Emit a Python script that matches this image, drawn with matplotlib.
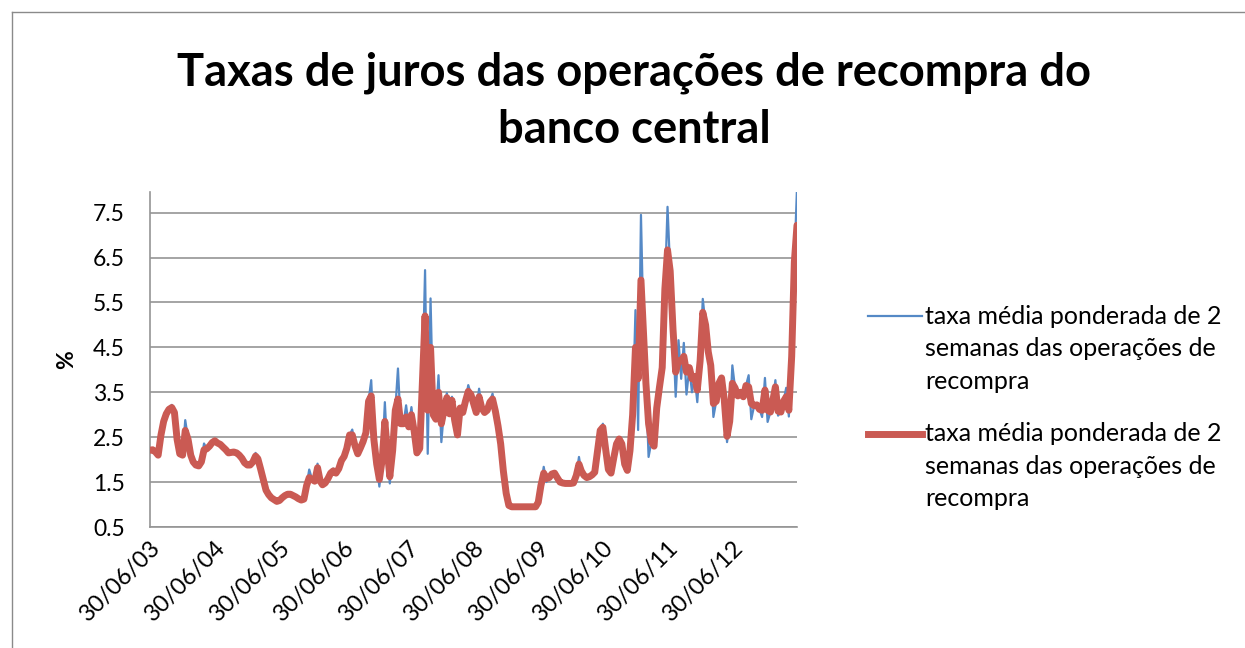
import matplotlib
matplotlib.use("Agg")
import matplotlib.pyplot as plt
import matplotlib.dates as mdates
from matplotlib.lines import Line2D
import pandas as pd

plt.rcParams['font.family'] = ['Lato', 'DejaVu Sans']

# ---------------- data (semi-monthly observations, 30/06/2003 - 30/06/2013) ----------------
start = pd.Timestamp(2003, 6, 30)
end = pd.Timestamp(2013, 6, 30)
dates = []
for yr in range(2003, 2014):
    for mo in range(1, 13):
        d15 = pd.Timestamp(yr, mo, 15)
        dend = d15 + pd.offsets.MonthEnd(0)
        for d in (d15, dend):
            if start <= d <= end:
                dates.append(d)

red_series = [
    2.21, 2.22, 2.17, 2.10, 2.55, 2.85, 3.02, 3.12, 3.16, 3.05,
    2.45, 2.13, 2.10, 2.65, 2.45, 2.10, 1.95, 1.88, 1.86, 1.95,
    2.22, 2.24, 2.30, 2.38, 2.42, 2.37, 2.34, 2.28, 2.22, 2.15,
    2.16, 2.17, 2.15, 2.10, 2.03, 1.93, 1.88, 1.88, 1.95, 2.08,
    2.02, 1.80, 1.55, 1.32, 1.22, 1.15, 1.11, 1.07, 1.09, 1.15,
    1.20, 1.23, 1.23, 1.20, 1.17, 1.13, 1.10, 1.12, 1.42, 1.60,
    1.56, 1.52, 1.82, 1.52, 1.44, 1.48, 1.58, 1.70, 1.75, 1.70,
    1.80, 1.98, 2.07, 2.25, 2.55, 2.55, 2.30, 2.13, 2.26, 2.40,
    2.60, 3.30, 3.42, 2.45, 1.90, 1.56, 2.00, 2.85, 2.25, 1.62,
    2.20, 3.10, 3.35, 2.80, 2.80, 2.95, 2.73, 3.00, 2.62, 2.15,
    2.25, 3.70, 5.20, 3.10, 4.50, 3.00, 2.90, 3.50, 2.80, 3.10,
    3.38, 3.02, 3.32, 2.88, 2.55, 3.15, 3.05, 3.30, 3.52, 3.45,
    3.25, 3.05, 3.40, 3.15, 3.05, 3.10, 3.28, 3.35, 3.08, 2.75,
    2.35, 1.75, 1.25, 0.98, 0.95, 0.95, 0.95, 0.95, 0.95, 0.95,
    0.95, 0.95, 0.95, 0.95, 1.05, 1.42, 1.70, 1.58, 1.60, 1.68,
    1.70, 1.60, 1.50, 1.48, 1.47, 1.47, 1.47, 1.48, 1.65, 1.90,
    1.75, 1.65, 1.60, 1.62, 1.66, 1.72, 2.20, 2.65, 2.72, 2.25,
    1.78, 1.70, 2.05, 2.35, 2.46, 2.35, 1.90, 1.76, 2.20, 3.00,
    4.50, 3.80, 6.00, 4.75, 3.70, 2.80, 2.40, 2.30, 3.15, 3.60,
    4.05, 5.80, 6.67, 6.20, 4.90, 3.95, 4.20, 4.20, 4.30, 3.95,
    4.05, 3.80, 3.85, 3.55, 4.20, 5.28, 5.00, 4.40, 4.10, 3.25,
    3.30, 3.70, 3.82, 3.35, 2.52, 2.85, 3.70, 3.60, 3.42, 3.50,
    3.40, 3.65, 3.62, 3.25, 3.20, 3.22, 3.12, 3.10, 3.55, 3.10,
    3.06, 3.35, 3.62, 3.08, 3.06, 3.30, 3.40, 3.10, 4.30, 6.40,
    7.22,
]

blue_series = [
    2.21, 2.22, 2.17, 2.10, 2.55, 2.85, 3.02, 3.12, 3.22, 3.05,
    2.45, 2.13, 2.10, 2.88, 2.45, 2.10, 1.95, 1.88, 1.86, 1.95,
    2.36, 2.24, 2.30, 2.38, 2.42, 2.37, 2.34, 2.28, 2.22, 2.15,
    2.16, 2.17, 2.15, 2.10, 2.03, 1.93, 1.88, 1.88, 1.95, 2.15,
    2.02, 1.80, 1.55, 1.32, 1.22, 1.15, 1.11, 1.07, 1.09, 1.15,
    1.20, 1.23, 1.23, 1.20, 1.17, 1.13, 1.10, 1.12, 1.42, 1.78,
    1.56, 1.52, 1.91, 1.52, 1.44, 1.48, 1.58, 1.70, 1.80, 1.70,
    1.80, 1.98, 2.07, 2.25, 2.55, 2.67, 2.30, 2.13, 2.26, 2.40,
    2.60, 3.30, 3.77, 2.45, 1.90, 1.40, 2.00, 3.28, 2.25, 1.47,
    2.20, 3.10, 4.03, 2.80, 2.80, 3.21, 2.73, 3.17, 2.62, 2.15,
    2.25, 3.70, 6.22, 2.13, 5.59, 3.00, 2.90, 3.88, 2.39, 3.10,
    3.48, 3.02, 3.40, 2.88, 2.55, 3.15, 3.05, 3.30, 3.66, 3.45,
    3.25, 3.05, 3.58, 3.15, 3.05, 3.10, 3.28, 3.47, 3.08, 2.75,
    2.35, 1.75, 1.25, 0.98, 0.95, 0.95, 0.95, 0.95, 0.95, 0.95,
    0.95, 0.95, 0.95, 0.95, 1.05, 1.42, 1.84, 1.50, 1.60, 1.68,
    1.70, 1.60, 1.50, 1.48, 1.47, 1.47, 1.47, 1.48, 1.65, 2.06,
    1.75, 1.65, 1.60, 1.62, 1.66, 1.72, 2.20, 2.65, 2.80, 2.25,
    1.78, 1.70, 2.05, 2.35, 2.46, 2.35, 1.90, 1.76, 2.20, 3.00,
    5.33, 2.66, 7.45, 4.75, 3.70, 2.06, 2.40, 2.30, 3.47, 3.60,
    4.51, 5.80, 7.63, 6.20, 4.90, 3.40, 4.66, 3.80, 4.60, 3.45,
    4.05, 3.50, 3.85, 3.28, 4.20, 5.58, 5.00, 4.77, 4.10, 2.95,
    3.30, 3.70, 3.82, 3.35, 2.39, 2.85, 4.10, 3.60, 3.42, 3.50,
    3.40, 3.65, 3.88, 2.90, 3.20, 3.22, 3.12, 2.95, 3.82, 2.84,
    3.06, 3.35, 3.77, 2.98, 3.06, 3.30, 3.60, 2.96, 4.30, 6.40,
    8.05,
]

series_label = "taxa média ponderada de 2\nsemanas das operações de\nrecompra"
title_text = "Taxas de juros das operações de recompra do\nbanco central"
y_ticks = [0.5, 1.5, 2.5, 3.5, 4.5, 5.5, 6.5, 7.5]
x_tick_dates = [pd.Timestamp(y, 6, 30) for y in range(2003, 2013)]

# ---------------- figure ----------------
W, H = 1245, 648
fig = plt.figure(figsize=(W / 100, H / 100), dpi=100)

def fx(px):
    return px / W

def fy(py):
    return 1 - py / H

ax = fig.add_axes([fx(150), fy(527), fx(797) - fx(150), fy(192) - fy(527)])

blue_c = '#5589C6'
red_c = '#CA5A53'
grid_c = '#959595'

ax.plot(dates, blue_series, color=blue_c, lw=1.6, solid_joinstyle='round', zorder=3)
ax.plot(dates, red_series, color=red_c, lw=5.0, solid_joinstyle='round',
        solid_capstyle='round', zorder=4)

ax.set_xlim(start, end)
ax.set_ylim(0.5, 7.96)
ax.set_yticks(y_ticks)
ax.set_yticklabels([f"{v:.1f}" for v in y_ticks])
ax.yaxis.grid(True, color=grid_c, lw=1.2)
ax.set_axisbelow(True)

ax.set_xticks(x_tick_dates)
ax.xaxis.set_major_formatter(mdates.DateFormatter('%d/%m/%y'))

for s in ('top', 'right'):
    ax.spines[s].set_visible(False)
for s in ('left', 'bottom'):
    ax.spines[s].set_color(grid_c)
    ax.spines[s].set_linewidth(1.2)

ax.tick_params(axis='y', length=0, labelsize=16.5, pad=18)
ax.tick_params(axis='x', length=0, labelsize=17, pad=7)
for lbl in ax.get_xticklabels():
    lbl.set_rotation(45)
    lbl.set_ha('right')
    lbl.set_va('top')
    lbl.set_rotation_mode('anchor')

ax.set_ylabel('%', fontsize=16.5, fontweight='bold')
ax.yaxis.set_label_coords((77 - 150) / 647, 0.5)

# title (baseline of the last line given)
fig.text(fx(634), fy(143), title_text, ha='center', va='baseline',
         fontsize=32.7, fontweight='bold', linespacing=1.45)

# legend (drawn manually to mimic the spreadsheet layout)
fig.add_artist(Line2D([fx(868), fx(922)], [fy(316), fy(316)], color=blue_c, lw=1.6,
                      transform=fig.transFigure))
fig.add_artist(Line2D([fx(868), fx(922)], [fy(434), fy(434)], color=red_c, lw=5.0,
                      transform=fig.transFigure))
fig.text(fx(925), fy(389), series_label, ha='left', va='baseline', fontsize=18,
         linespacing=1.5)
fig.text(fx(925), fy(506), series_label, ha='left', va='baseline', fontsize=18,
         linespacing=1.5)

# outer chart frame (top and left edges visible)
fig.add_artist(Line2D([fx(12), fx(1245)], [fy(12), fy(12)], color='#8a8a8a', lw=1.0,
                      transform=fig.transFigure))
fig.add_artist(Line2D([fx(12), fx(12)], [fy(12), fy(648)], color='#8a8a8a', lw=1.0,
                      transform=fig.transFigure))

fig.savefig('out.png', dpi=100)
